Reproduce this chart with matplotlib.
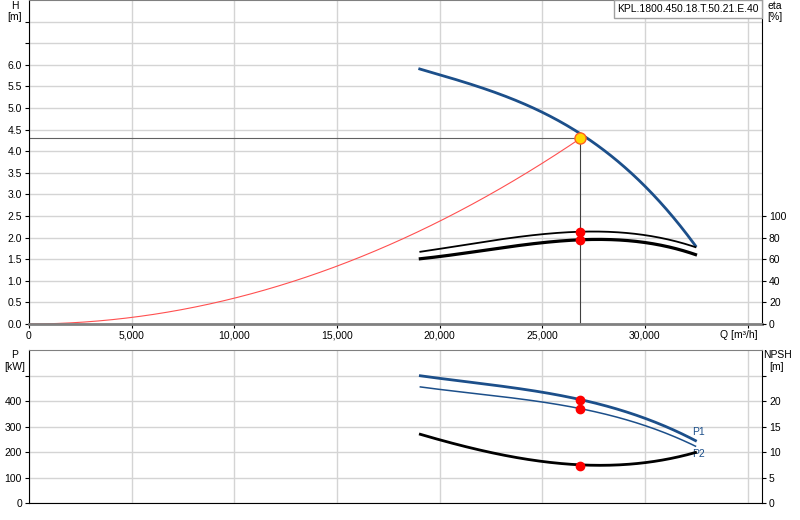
import numpy as np
import matplotlib
matplotlib.use("Agg")
import matplotlib.pyplot as plt

plt.rcParams['font.family'] = ['Liberation Sans', 'DejaVu Sans']
plt.rcParams['font.size'] = 7.5

# pump head curve H [m] vs Q [m3/h]
q_h = [19030, 20970, 22920, 25000, 26860, 28760, 30220, 31680, 32460]
h = [5.87, 5.69, 5.34, 4.88, 4.30, 3.79, 3.14, 2.29, 1.78]

# system curve
q_sys = [0, 5000, 10000, 15000, 20000, 25000, 26860]
h_sys = [0.0, 0.15, 0.60, 1.34, 2.38, 3.72, 4.30]

# efficiency curves eta [%]
q_eta = [19060, 21300, 22920, 26860, 27620, 29880, 31520, 32460]
eta1 = [66.7, 73.8, 78.4, 85.0, 85.2, 83.3, 76.8, 70.7]
eta2 = [60.2, 66.4, 70.0, 77.8, 78.0, 76.2, 70.0, 63.9]

# power curves P [kW]
q_p = [19060, 22920, 25030, 26860, 29900, 31350, 32460]
p1 = [500, 464, 433, 404, 341, 287, 245]
p2 = [456, 424, 392, 370, 313, 260, 224]

# NPSH [m]
q_npsh = [19060, 21300, 22920, 25030, 26860, 28600, 30700, 32460]
npsh = [13.45, 11.15, 9.7, 8.0, 7.35, 7.55, 8.53, 9.83]

q_op, h_op = 26860, 4.30
eta1_op, eta2_op = 85.0, 77.8
p1_op, p2_op, npsh_op = 404, 370, 7.35

x_ticks = [0, 5000, 10000, 15000, 20000, 25000, 30000, 35000]
x_labels = ['0', '5,000', '10,000', '15,000', '20,000', '25,000', '30,000', '']

blue = '#1c4f8a'
grid_c = '#d4d4d4'


def smooth(xs, ys, n=200):
    xs = np.asarray(xs, float)
    ys = np.asarray(ys, float)
    c = np.polyfit(xs, ys, min(3, len(xs) - 1))
    xx = np.linspace(xs[0], xs[-1], n)
    return xx, np.polyval(c, xx)


fig = plt.figure(figsize=(8, 5.2), dpi=100)
ax = fig.add_axes([29 / 800, 1 - 324 / 520, 733 / 800, 324 / 520])
axp = fig.add_axes([29 / 800, 1 - 503 / 520, 733 / 800, 153 / 520])

for a in (ax, axp):
    a.set_xlim(0, 35700)
    a.set_xticks(x_ticks)
    a.grid(True, color=grid_c, lw=1)
    a.set_axisbelow(True)
    a.tick_params(length=3, width=0.8, pad=2, labelsize=7.5)
    a.spines['top'].set_color('#808080')
    a.spines['left'].set_color('black')
    a.spines['right'].set_color('black')

ax.spines['bottom'].set_color('#808080')
ax.spines['bottom'].set_linewidth(2)
ax.set_xticklabels(x_labels)
axp.set_xticklabels([])
axp.tick_params(axis='x', length=0)

# top chart
ax.set_ylim(0, 7.5)
ax.set_yticks(np.arange(0, 7.01, 0.5))
ax.set_yticklabels([f'{v:.1f}' if v <= 6.0 else '' for v in np.arange(0, 7.01, 0.5)])

ax.plot(*smooth(q_sys, h_sys), color='#ff5050', lw=0.8)
ax.plot([0, q_op], [h_op, h_op], color='#606060', lw=0.8)
ax.plot([q_op, q_op], [0, h_op], color='#404040', lw=0.8)
ax.plot(*smooth(q_h, h), color=blue, lw=2)

ax2 = ax.twinx()
ax2.set_ylim(0, 300)
ax2.set_yticks(range(0, 101, 20))
ax2.tick_params(length=3, width=0.8, pad=2, labelsize=7.5)
for s in ax2.spines.values():
    s.set_visible(False)
ax2.plot(*smooth(q_eta, eta1), color='black', lw=1.3)
ax2.plot(*smooth(q_eta, eta2), color='black', lw=2.3)
ax2.plot([q_op], [eta1_op], 'o', color='red', ms=6)
ax2.plot([q_op], [eta2_op], 'o', color='red', ms=6)
ax2.plot([q_op], [h_op * 40], 'o', color='#ffd800', mec='#ff6020', mew=1, ms=8)

fig.text(15 / 800, 1 - 6 / 520, 'H', ha='center', va='center')
fig.text(15 / 800, 1 - 17 / 520, '[m]', ha='center', va='center')
fig.text(775 / 800, 1 - 6 / 520, 'eta', ha='center', va='center')
fig.text(775 / 800, 1 - 17 / 520, '[%]', ha='center', va='center')
fig.text(758 / 800, 1 - 335 / 520, 'Q [m³/h]', ha='right', va='center')
fig.text(688 / 800, 1 - 9 / 520, 'KPL.1800.450.18.T.50.21.E.40', ha='center', va='center',
         bbox=dict(boxstyle='square,pad=0.35', fc='white', ec='#a0a0a0', lw=1))

# bottom chart
axp.set_ylim(0, 602)
axp.set_yticks(range(0, 501, 100))
axp.set_yticklabels(['0', '100', '200', '300', '400', ''])
axp.spines['bottom'].set_color('black')
axp.plot(*smooth(q_p, p1), color=blue, lw=2)
axp.plot(*smooth(q_p, p2), color=blue, lw=1.1)
axp.plot([q_op], [p1_op], 'o', color='red', ms=6)
axp.plot([q_op], [p2_op], 'o', color='red', ms=6)
axp.text(q_p[-1] + 150, 280, 'P1', color=blue, ha='center', va='center')
axp.text(q_p[-1] + 150, 193, 'P2', color=blue, ha='center', va='center')

axn = axp.twinx()
axn.set_ylim(0, 30.1)
axn.set_yticks(range(0, 26, 5))
axn.set_yticklabels(['0', '5', '10', '15', '20', ''])
axn.tick_params(length=3, width=0.8, pad=2, labelsize=7.5)
for s in axn.spines.values():
    s.set_visible(False)
axn.plot(*smooth(q_npsh, npsh), color='black', lw=2)
axn.plot([q_op], [npsh_op], 'o', color='red', ms=6)

fig.text(15 / 800, 1 - 355 / 520, 'P', ha='center', va='center')
fig.text(15 / 800, 1 - 367 / 520, '[kW]', ha='center', va='center')
fig.text(777 / 800, 1 - 355 / 520, 'NPSH', ha='center', va='center')
fig.text(777 / 800, 1 - 367 / 520, '[m]', ha='center', va='center')

fig.savefig('out.png', dpi=100)
